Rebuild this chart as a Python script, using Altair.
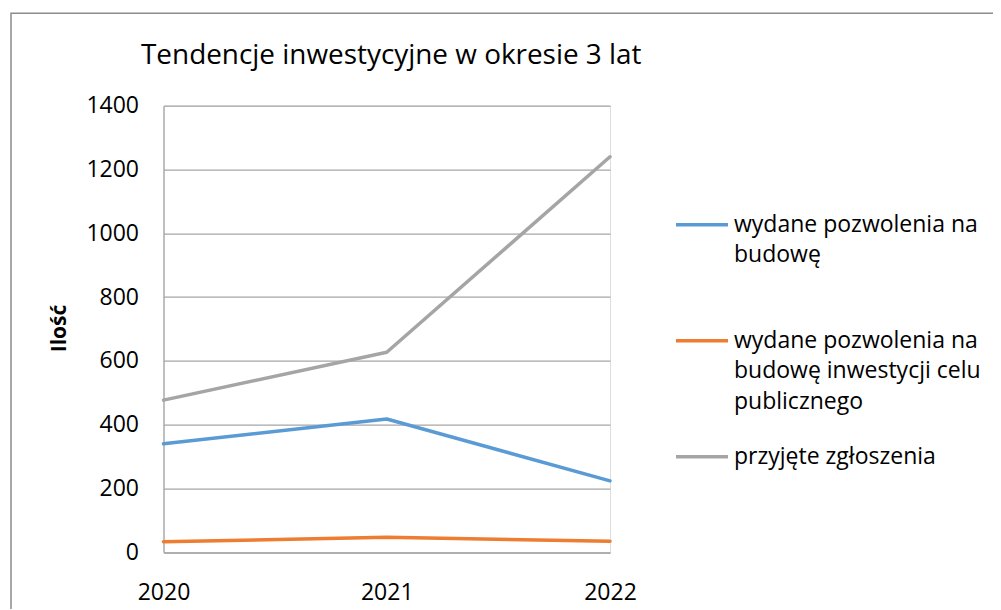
import altair as alt
import pandas as pd

# ---- data ----
years = ["2020", "2021", "2022"]
series_names = [
    "wydane pozwolenia na budowę",
    "wydane pozwolenia na budowę inwestycji celu publicznego",
    "przyjęte zgłoszenia",
]
pozwolenia = [340, 418, 224]
pozwolenia_celu_publicznego = [33, 47, 35]
zgloszenia = [477, 627, 1240]
series_values = [pozwolenia, pozwolenia_celu_publicznego, zgloszenia]
colors = ["#5B9BD5", "#ED7D31", "#A5A5A5"]
legend_lines = [
    ["wydane pozwolenia na", "budowę", ""],
    ["wydane pozwolenia na", "budowę inwestycji celu", "publicznego"],
    ["przyjęte zgłoszenia", "", ""],
]
y_ticks = [0, 200, 400, 600, 800, 1000, 1200, 1400]
title_text = "Tendencje inwestycyjne w okresie 3 lat"
y_title = "Ilość"

rows = []
for name, vals in zip(series_names, series_values):
    for yr, v in zip(years, vals):
        rows.append({"rok": yr, "seria": name, "ilosc": v})
df = pd.DataFrame(rows)


def js_arr(lines):
    return "[" + ",".join("'" + s + "'" for s in lines) + "]"


label_expr = ""
for name, lines in zip(series_names[:-1], legend_lines[:-1]):
    label_expr += f"datum.label == '{name}' ? {js_arr(lines)} : "
label_expr += js_arr(legend_lines[-1])

FONT = "Open Sans"
GRID = "#A6A6A6"
W, H = 446.5, 446.6
PAD_L, PAD_T = 155.5, 97.7

frame = alt.Chart(alt.Data(values=[{}])).mark_rect(
    fillOpacity=0, stroke="#8C8C8C", strokeWidth=1.5
).encode(
    x=alt.value(11 - 8 - PAD_L),
    y=alt.value(13.3 - 8 - PAD_T),
    x2=alt.value(W + 600),
    y2=alt.value(H + 300),
)

lines = alt.Chart(df).mark_line(
    strokeWidth=3.5, strokeCap="round", strokeJoin="round"
).encode(
    x=alt.X(
        "rok:O",
        sort=years,
        scale=alt.Scale(padding=0),
        axis=alt.Axis(
            title=None, labelAngle=0, ticks=False, grid=False,
            domain=True, domainColor=GRID, domainWidth=1.3,
            labelPadding=29, labelFont=FONT, labelFontSize=23,
            labelColor="black",
        ),
    ),
    y=alt.Y(
        "ilosc:Q",
        scale=alt.Scale(domain=[0, 1400], nice=False),
        axis=alt.Axis(
            values=y_ticks, format="d", title=y_title,
            titleFont=FONT, titleFontSize=21, titleFontWeight="bold",
            titleColor="black", titleAngle=270, titleX=-104.5, titleY=222.3,
            titleAlign="center", titleBaseline="middle",
            labelFont=FONT, labelFontSize=23, labelColor="black",
            labelPadding=25, ticks=False,
            domain=True, domainColor=GRID, domainWidth=1.3,
            grid=True, gridColor=GRID, gridWidth=1.3,
        ),
    ),
    color=alt.Color(
        "seria:N",
        sort=series_names,
        scale=alt.Scale(domain=series_names, range=colors),
        legend=alt.Legend(
            title=None, orient="none", legendX=510.5, legendY=91,
            symbolType="stroke", symbolSize=2704, symbolStrokeWidth=3.5,
            labelFont=FONT, labelFontSize=23, labelColor="black",
            labelLimit=500, labelOffset=4, labelBaseline="middle",
            labelExpr=label_expr, rowPadding=15, padding=0,
        ),
    ),
)

chart = alt.layer(frame, lines).properties(
    width=W,
    height=H,
    padding={"left": PAD_L, "top": PAD_T, "right": 985 - PAD_L - W, "bottom": 601 - PAD_T - H},
    autosize=alt.AutoSizeParams(type="none"),
    title=alt.TitleParams(
        text=title_text, font=FONT, fontSize=27.9, fontWeight="normal",
        color="black", anchor="start", frame="group", baseline="alphabetic",
        offset=0, dx=-22.5, dy=79.5,
    ),
).configure_view(stroke="transparent").configure(
    style={"guide-label": {"lineHeight": 30.5}}
)

chart.save("out.html", embed_options={"renderer": "svg", "actions": False})
